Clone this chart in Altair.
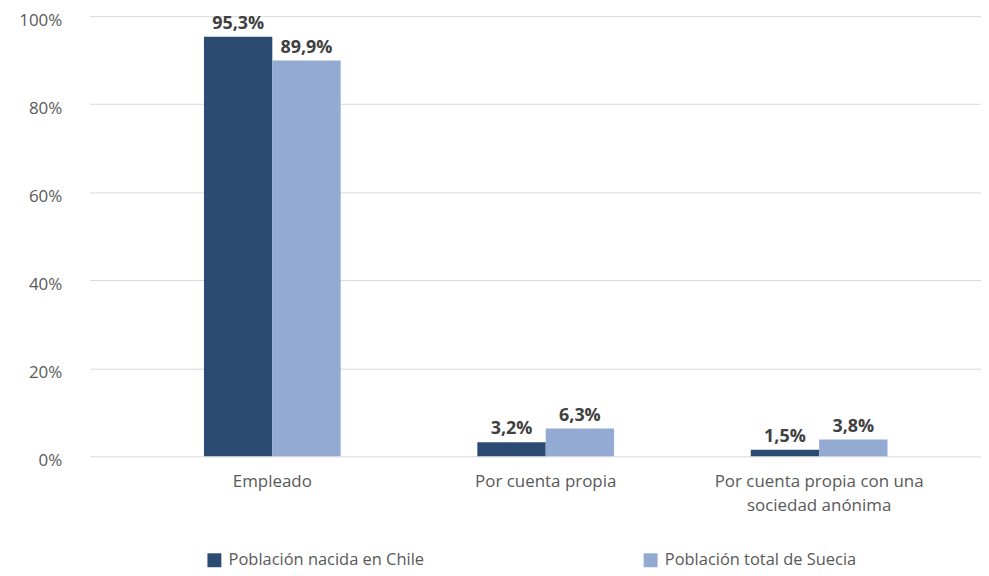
import altair as alt
import pandas as pd

categories = ["Empleado", "Por cuenta propia", "Por cuenta propia con una sociedad anónima"]
series = ["Población nacida en Chile", "Población total de Suecia"]
chile = [95.3, 3.2, 1.5]
suecia = [89.9, 6.3, 3.8]
colors = ["#2C4B73", "#93AAD2"]
y_ticks = [0, 20, 40, 60, 80, 100]

rows = []
for i, c in enumerate(categories):
    rows.append({"cat": c, "serie": series[0], "v": chile[i]})
    rows.append({"cat": c, "serie": series[1], "v": suecia[i]})
df = pd.DataFrame(rows)

FONT = "Open Sans"

x = alt.X(
    "cat:N",
    sort=categories,
    scale=alt.Scale(paddingInner=0.5, paddingOuter=0.38, align=0.55),
    axis=alt.Axis(
        title=None, labelAngle=0, ticks=False, domain=False,
        labelFont=FONT, labelFontSize=17, labelColor="#595959",
        labelPadding=17, labelLineHeight=24, labelLimit=400,
        labelExpr="datum.label == 'Por cuenta propia con una sociedad anónima' ? ['Por cuenta propia con una', 'sociedad anónima'] : datum.label",
    ),
)
xo = alt.XOffset("serie:N", sort=series, scale=alt.Scale(paddingInner=0, paddingOuter=0))
y = alt.Y(
    "v:Q",
    scale=alt.Scale(domain=[0, 100], nice=False),
    axis=alt.Axis(
        title=None, values=y_ticks, ticks=False, domain=False,
        labelExpr="datum.value + '%'",
        labelFont=FONT, labelFontSize=17, labelColor="#595959",
        labelPadding=28, labelOffset=4,
        gridColor="#D9D9D9", gridWidth=1,
    ),
)

base = alt.Chart(df).encode(x=x, xOffset=xo)

bars = base.mark_bar().encode(
    y=y,
    color=alt.Color(
        "serie:N", sort=series,
        scale=alt.Scale(domain=series, range=colors),
        legend=alt.Legend(
            title=None, orient="none", legendX=117, legendY=538,
            direction="horizontal", symbolType="square", symbolSize=196,
            symbolStrokeWidth=0, labelFont=FONT, labelFontSize=16.5,
            labelColor="#595959", columnPadding=219, labelOffset=6,
            labelLimit=400,
        ),
    ),
)

labels = base.transform_calculate(
    lbl="replace(format(datum.v, '.1f'), '.', ',') + '%'"
).mark_text(
    baseline="bottom", dy=-4, font=FONT, fontSize=18, fontWeight="bold", color="#404040"
).encode(y=alt.Y("v:Q"), text="lbl:N")

chart = (
    alt.layer(bars, labels)
    .properties(
        width=895, height=442,
        autosize=alt.AutoSizeParams(type="none"),
        padding={"left": 82, "top": 7, "right": 0, "bottom": 117},
    )
    .configure_view(stroke=None)
)

chart.save("out.html", embed_options={"renderer": "svg", "actions": False})
